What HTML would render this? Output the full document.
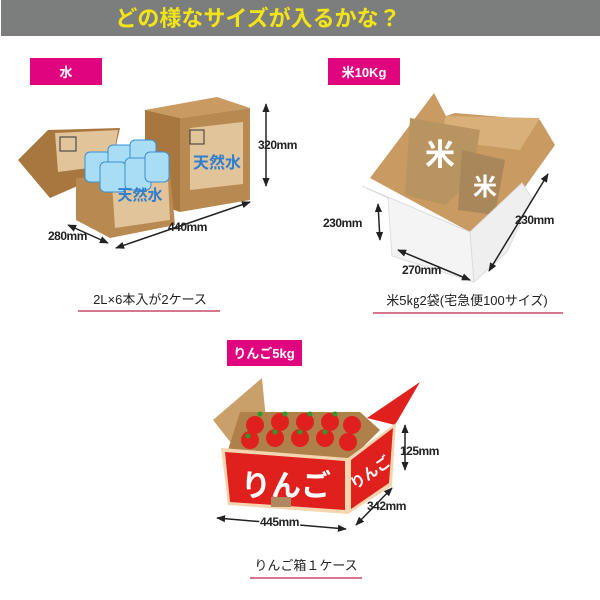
<!DOCTYPE html>
<html><head><meta charset="utf-8"><style>
html,body{margin:0;padding:0;background:#fff;}
svg{display:block}
text{font-family:"Liberation Sans","Noto Sans CJK JP",sans-serif;}
.mm{font-size:12px;font-weight:bold;fill:#222;letter-spacing:-0.5px}
.cap{font-size:13px;fill:#222}
.lab{font-size:13px;font-weight:bold;fill:#fff}
</style></head><body>
<svg width="600" height="600" viewBox="0 0 600 600" xmlns="http://www.w3.org/2000/svg">
<defs>
<marker id="a" viewBox="0 0 10 10" refX="9" refY="5" markerWidth="6" markerHeight="6" orient="auto-start-reverse"><path d="M0,1L10,5L0,9z" fill="#222"/></marker>
</defs>
<rect x="1" y="0" width="599" height="36" fill="#7c7e7d"/>
<text x="258" y="26" text-anchor="middle" font-size="22" font-weight="bold" fill="#f2e416">どの様なサイズが入るかな？</text>

<rect x="30" y="58" width="72" height="27" fill="#e0047f"/>
<text x="66" y="77" text-anchor="middle" class="lab">水</text>
<rect x="328" y="58" width="72" height="27" fill="#e0047f"/>
<text x="364" y="77" text-anchor="middle" class="lab">米10Kg</text>
<rect x="227" y="340" width="75" height="26" fill="#e0047f"/>
<text x="264" y="358" text-anchor="middle" class="lab">りんご5kg</text>

<!-- water boxes -->
<polygon points="145,110 217,97 250,108 180,118" fill="#c99a62"/>
<polygon points="145,110 180,118 180,212 145,200" fill="#a8763f"/>
<polygon points="180,118 250,108 250,200 180,212" fill="#b88950"/>
<polygon points="190,128 243,122 243,184 190,190" fill="#e2c49a"/>
<text x="217" y="168" text-anchor="middle" font-size="16" font-weight="bold" fill="#2f7fd0">天然水</text>
<rect x="190" y="130" width="14" height="14" fill="none" stroke="#333" stroke-width="1"/>
<polygon points="18,160 48,130 120,128 110,172 50,198" fill="#a8763f"/>
<polygon points="55,133 118,130 112,165 58,172" fill="#e2c49a"/>
<rect x="60" y="137" width="16" height="14" fill="none" stroke="#333"/>
<polygon points="76,178 170,172 175,225 110,238 76,220" fill="#b88950"/>
<polygon points="112,183 168,178 170,220 115,228" fill="#e2c49a"/>
<g fill="#a9dcf5" stroke="#3a8fd0" stroke-width="1">
<rect x="85" y="152" width="26" height="30" rx="5"/>
<rect x="108" y="145" width="26" height="35" rx="5"/>
<rect x="130" y="140" width="26" height="38" rx="5"/>
<rect x="100" y="162" width="26" height="30" rx="5"/>
<rect x="125" y="158" width="26" height="32" rx="5"/>
<rect x="145" y="152" width="24" height="30" rx="5"/>
</g>
<text x="140" y="200" text-anchor="middle" font-size="15" font-weight="bold" fill="#2f7fd0">天然水</text>
<line x1="266" y1="104" x2="266" y2="186" stroke="#222" stroke-width="1.5" marker-start="url(#a)" marker-end="url(#a)"/>
<text x="258" y="149" class="mm">320mm</text>
<line x1="116" y1="248" x2="250" y2="202" stroke="#222" stroke-width="1.5" marker-start="url(#a)" marker-end="url(#a)"/>
<text x="168" y="231" class="mm">440mm</text>
<line x1="68" y1="225" x2="108" y2="243" stroke="#222" stroke-width="1.5" marker-start="url(#a)" marker-end="url(#a)"/>
<text x="48" y="240" class="mm">280mm</text>

<!-- rice box -->
<polygon points="370,178 434,93 446,116 455,113 540,120 555,145 505,215 470,232" fill="#c99a62"/>
<polygon points="446,116 540,118 520,150 440,140" fill="#d9b07a"/>
<polygon points="410,118 480,130 472,180 445,205 405,195" fill="#b79460"/>
<polygon points="462,150 505,160 495,215 458,210" fill="#a9875a"/>
<text x="440" y="165" text-anchor="middle" font-size="30" font-weight="bold" fill="#fff">米</text>
<text x="485" y="195" text-anchor="middle" font-size="24" font-weight="bold" fill="#fff">米</text>
<polygon points="362,186 470,232 474,282 392,256 388,198" fill="#f4f4f4" stroke="#ddd"/>
<polygon points="470,232 522,183 532,198 507,252 474,282" fill="#efefef" stroke="#ddd"/>
<line x1="378" y1="204" x2="380" y2="240" stroke="#222" stroke-width="1.5" marker-start="url(#a)" marker-end="url(#a)"/>
<text x="323" y="227" class="mm">230mm</text>
<line x1="548" y1="174" x2="489" y2="271" stroke="#222" stroke-width="1.5" marker-start="url(#a)" marker-end="url(#a)"/>
<text x="515" y="224" class="mm">230mm</text>
<line x1="398" y1="250" x2="470" y2="280" stroke="#222" stroke-width="1.5" marker-start="url(#a)" marker-end="url(#a)"/>
<text x="402" y="274" class="mm">270mm</text>

<!-- apple box -->
<polygon points="213,420 262,378 266,420 235,448" fill="#c9a06a"/>
<polygon points="240,412 360,412 380,430 350,460 228,450" fill="#b0804a"/>
<g fill="#e0201c">
<circle cx="255" cy="425" r="9"/><circle cx="280" cy="422" r="9"/><circle cx="305" cy="422" r="9"/><circle cx="330" cy="422" r="9"/><circle cx="352" cy="425" r="9"/>
<circle cx="250" cy="440" r="9"/><circle cx="275" cy="438" r="9"/><circle cx="300" cy="438" r="9"/><circle cx="325" cy="438" r="9"/><circle cx="348" cy="442" r="9"/>
</g>
<g fill="#2e9a2e">
<circle cx="260" cy="414" r="2.5"/><circle cx="285" cy="414" r="2.5"/><circle cx="310" cy="414" r="2.5"/><circle cx="335" cy="414" r="2.5"/>
<circle cx="248" cy="436" r="2.5"/><circle cx="275" cy="432" r="2.5"/><circle cx="300" cy="432" r="2.5"/><circle cx="325" cy="432" r="2.5"/>
</g>
<polygon points="367,418 420,382 395,425" fill="#e0201c"/>
<polygon points="221,448 348,458 348,514 228,505" fill="#f5d5b0"/>
<polygon points="225,452 345,461 345,510 230,502" fill="#e0201c"/>
<text x="286" y="496" text-anchor="middle" font-size="30" font-weight="bold" fill="#fff">りんご</text>
<rect x="271" y="497" width="20" height="10" fill="#b08860"/>
<polygon points="348,458 396,423 392,486 348,514" fill="#f5d5b0"/>
<polygon points="351,460 393,428 389,483 351,509" fill="#e0201c"/>
<text x="370" y="478" text-anchor="middle" font-size="15" font-weight="bold" fill="#fff" transform="rotate(-35 370 472)">りんご</text>
<line x1="405" y1="425" x2="405" y2="470" stroke="#222" stroke-width="1.5" marker-start="url(#a)" marker-end="url(#a)"/>
<text x="400" y="455" class="mm">125mm</text>
<line x1="356" y1="525" x2="392" y2="488" stroke="#222" stroke-width="1.5" marker-start="url(#a)" marker-end="url(#a)"/>
<text x="367" y="510" class="mm">342mm</text>
<line x1="217" y1="518" x2="346" y2="529" stroke="#222" stroke-width="1.5" marker-start="url(#a)" marker-end="url(#a)"/>
<text x="260" y="526" class="mm" style="paint-order:stroke" stroke="#fff" stroke-width="3">445mm</text>

<text x="150" y="304" text-anchor="middle" class="cap">2L×6本入が2ケース</text>
<line x1="78" y1="311" x2="220" y2="311" stroke="#c84a68" stroke-width="1.5"/>
<text x="467" y="305" text-anchor="middle" class="cap">米5㎏2袋(宅急便100サイズ)</text>
<line x1="373" y1="313" x2="563" y2="313" stroke="#c84a68" stroke-width="1.5"/>
<text x="306" y="570" text-anchor="middle" class="cap">りんご箱１ケース</text>
<line x1="250" y1="578" x2="362" y2="578" stroke="#c84a68" stroke-width="1.5"/>
</svg>
</body></html>
